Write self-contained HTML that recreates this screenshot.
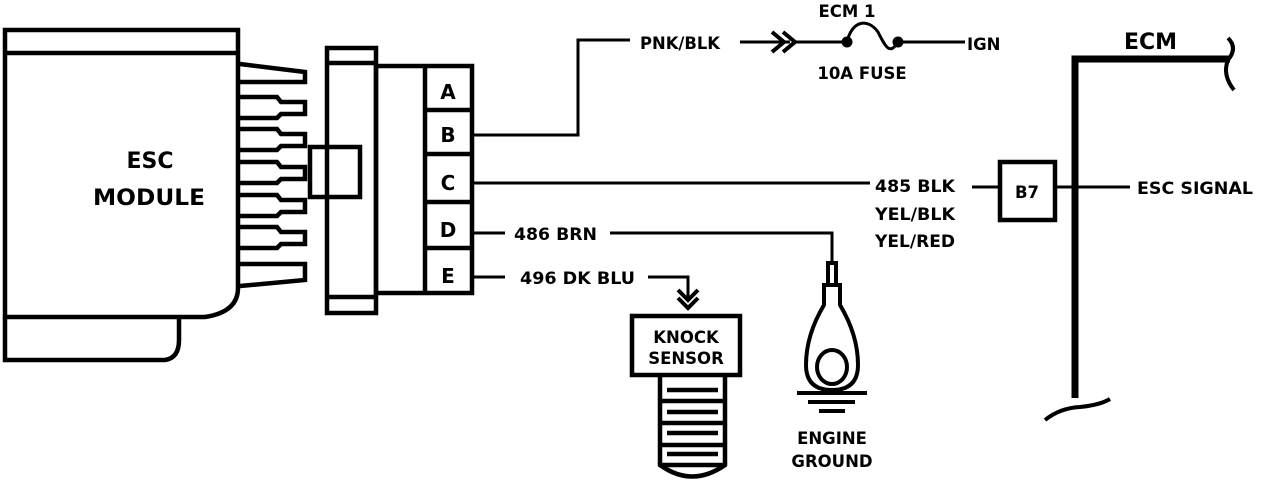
<!DOCTYPE html>
<html><head><meta charset="utf-8"><style>
html,body{margin:0;padding:0;background:#fff;}
svg{display:block;}
text{font-family:"DejaVu Sans","Liberation Sans",sans-serif;font-weight:bold;fill:#000;}
</style></head><body>
<svg width="1264" height="488" viewBox="0 0 1264 488" xmlns="http://www.w3.org/2000/svg">
<g fill="none" stroke="#000" stroke-width="4.5">
<path d="M5,30 H238 V288 Q238,312 205,317 H5 Z"/>
<line x1="5" y1="53" x2="238" y2="53"/>
<path d="M5,317 V360 H165 Q179,358 179,340 V317"/>
<path d="M240,64 L305,72 V82 H240"/>
<path d="M240,97 H277 L281,102 H305 V114 H281 L277,118 H240"/>
<path d="M240,129 H277 L281,134 H305 V146 H281 L277,150 H240"/>
<path d="M240,162 H277 L281,167 H305 V179 H281 L277,183 H240"/>
<path d="M240,195 H277 L281,200 H305 V212 H281 L277,216 H240"/>
<path d="M240,227 H277 L281,232 H305 V244 H281 L277,248 H240"/>
<path d="M240,264 H305 V280 L240,286"/>
<rect x="327" y="48" width="49" height="265"/>
<line x1="327" y1="63" x2="376" y2="63"/>
<line x1="327" y1="297" x2="376" y2="297"/>
<rect x="310" y="147" width="50" height="50"/>
<rect x="376" y="66" width="96" height="227"/>
<line x1="425" y1="66" x2="425" y2="293"/>
<line x1="425" y1="110" x2="472" y2="110"/>
<line x1="425" y1="154" x2="472" y2="154"/>
<line x1="425" y1="202" x2="472" y2="202"/>
<line x1="425" y1="248" x2="472" y2="248"/>
</g>
<g fill="none" stroke="#000" stroke-width="3">
<path d="M472,135 H578 V40 H630"/>
<line x1="740" y1="42" x2="790" y2="42"/>
<path d="M772,32 L784,42 L772,52 M783,32 L795,42 L783,52" stroke-width="4"/>
<line x1="795" y1="42" x2="845" y2="42"/>
<path d="M847,42 C852,20 868,18 878,32 C886,48 890,55 898,42"/>
<line x1="898" y1="42" x2="965" y2="42"/>
<line x1="472" y1="183" x2="870" y2="183"/>
<line x1="972" y1="187" x2="1000" y2="187"/>
<line x1="1056" y1="187" x2="1130" y2="187"/>
<line x1="472" y1="233" x2="505" y2="233"/>
<path d="M610,233 H832 V265"/>
<line x1="472" y1="277" x2="505" y2="277"/>
<path d="M648,277 H688 V298"/>
<path d="M678,290 L688,300 L698,290 M678,298 L688,308 L698,298" stroke-width="4"/>
</g>
<circle cx="847" cy="42" r="5.5"/>
<circle cx="898" cy="42" r="5.5"/>
<g fill="none" stroke="#000">
<path d="M1075,398 V59 H1230" stroke-width="7"/>
<path d="M1228,38 Q1238,48 1228,60 Q1222,75 1234,90" stroke-width="4"/>
<path d="M1045,420 Q1060,408 1080,407 Q1100,405 1110,399" stroke-width="4"/>
<rect x="1000" y="162" width="55" height="58" stroke-width="4.5"/>
</g>
<g fill="none" stroke="#000" stroke-width="4.5">
<rect x="632" y="316" width="108" height="59"/>
<path d="M660,375 V465 Q692,488 725,465 V375"/>
<line x1="660" y1="401" x2="725" y2="401"/>
<line x1="660" y1="423" x2="725" y2="423"/>
<line x1="660" y1="445" x2="725" y2="445"/>
<line x1="660" y1="465" x2="725" y2="465"/>
</g>
<g stroke="#000" stroke-width="4.5">
<line x1="667" y1="390" x2="718" y2="390"/>
<line x1="667" y1="412" x2="718" y2="412"/>
<line x1="667" y1="433" x2="718" y2="433"/>
<line x1="667" y1="454" x2="718" y2="454"/>
</g>
<g fill="none" stroke="#000" stroke-width="4">
<rect x="828" y="263" width="8" height="22"/>
<path d="M824,285 H840 V305 Q858,335 858,365 Q858,390 832,390 Q806,390 806,365 Q806,335 824,305 Z"/>
<ellipse cx="832" cy="367" rx="15" ry="17"/>
<line x1="797" y1="393" x2="867" y2="393"/>
<line x1="808" y1="402" x2="855" y2="402"/>
<line x1="819" y1="411" x2="845" y2="411"/>
</g>
<text x="150" y="168" font-size="22" text-anchor="middle">ESC</text>
<text x="149" y="205" font-size="22" text-anchor="middle" textLength="112" lengthAdjust="spacingAndGlyphs">MODULE</text>
<g font-size="20" text-anchor="middle">
<text x="448" y="99">A</text>
<text x="448" y="142">B</text>
<text x="448" y="190">C</text>
<text x="448" y="237">D</text>
<text x="448" y="283">E</text>
</g>
<g font-size="16.5">
<text x="640" y="49" textLength="80" lengthAdjust="spacingAndGlyphs">PNK/BLK</text>
<text x="847" y="17" text-anchor="middle">ECM 1</text>
<text x="862" y="79" text-anchor="middle">10A FUSE</text>
<text x="967" y="50">IGN</text>
<text x="875" y="192" textLength="80" lengthAdjust="spacingAndGlyphs">485 BLK</text>
<text x="875" y="220" textLength="80" lengthAdjust="spacingAndGlyphs">YEL/BLK</text>
<text x="875" y="247" textLength="80" lengthAdjust="spacingAndGlyphs">YEL/RED</text>
<text x="1027" y="198" text-anchor="middle">B7</text>
<text x="1137" y="194" textLength="116" lengthAdjust="spacingAndGlyphs">ESC SIGNAL</text>
<text x="514" y="240" textLength="83" lengthAdjust="spacingAndGlyphs">486 BRN</text>
<text x="520" y="284" textLength="115" lengthAdjust="spacingAndGlyphs">496 DK BLU</text>
<text x="686" y="343" text-anchor="middle">KNOCK</text>
<text x="686" y="364" text-anchor="middle">SENSOR</text>
<text x="832" y="444" text-anchor="middle">ENGINE</text>
<text x="832" y="467" text-anchor="middle">GROUND</text>
</g>
<text x="1124" y="49" font-size="22">ECM</text>
</svg>
</body></html>
